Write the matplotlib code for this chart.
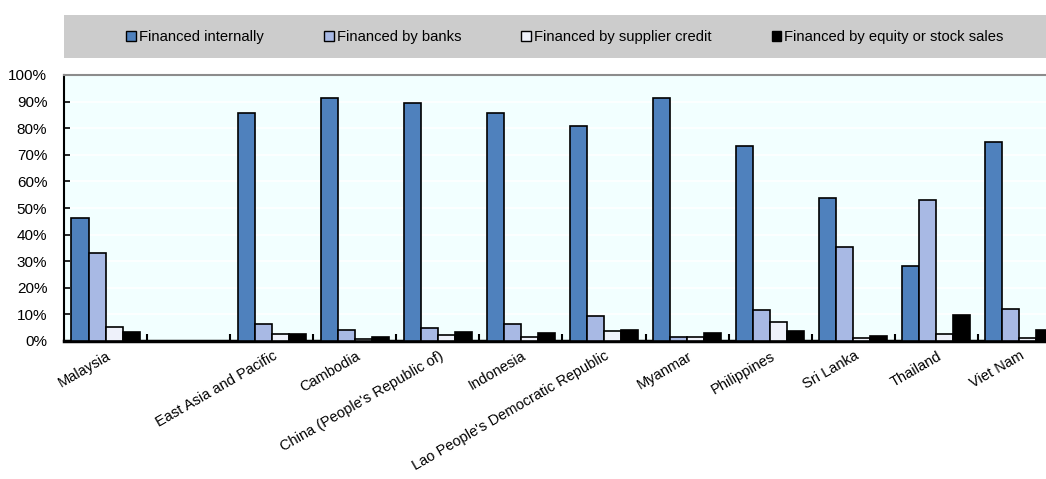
import matplotlib
matplotlib.use("Agg")
import matplotlib.pyplot as plt
from matplotlib.patches import Rectangle, Patch
from matplotlib.ticker import FixedLocator, FuncFormatter
import numpy as np

plt.rcParams["font.family"] = ["Liberation Sans", "DejaVu Sans"]

categories = ["Malaysia", "", "East Asia and Pacific", "Cambodia",
              "China (People's Republic of)", "Indonesia",
              "Lao People's Democratic Republic", "Myanmar", "Philippines",
              "Sri Lanka", "Thailand", "Viet Nam"]

internal = [46.1, 0, 85.6, 91.2, 89.6, 85.8, 80.9, 91.5, 73.3, 53.6, 28.3, 74.8]
banks = [33.0, 0, 6.4, 4.1, 4.8, 6.3, 9.5, 1.6, 11.8, 35.5, 53.0, 12.2]
supplier = [5.4, 0, 2.6, 0.7, 2.1, 1.4, 3.8, 1.4, 7.1, 1.0, 2.8, 1.1]
equity = [3.5, 0, 2.6, 1.4, 3.5, 3.1, 4.3, 3.0, 3.8, 2.0, 9.9, 4.1]

series_names = ["Financed internally", "Financed by banks",
                "Financed by supplier credit", "Financed by equity or stock sales"]
series_values = [internal, banks, supplier, equity]
series_colors = ["#4F81BD", "#A8B9E4", "#EEF1FA", "#000000"]

W, H = 1046, 479
fig = plt.figure(figsize=(W / 100, H / 100), dpi=100)

# axes box in pixel units: left 64, right 1061 (runs past the page edge), top 75, bottom 341
left, right, top, bottom = 64, 1061, 75, 341
ax = fig.add_axes([left / W, 1 - bottom / H, (right - left) / W, (bottom - top) / H])
ax.set_facecolor("#F2FFFF")

x = np.arange(len(categories))
bw = 0.205
offsets = (np.arange(4) - 1.5) * bw
for vals, off, col in zip(series_values, offsets, series_colors):
    v = np.array(vals, dtype=float)
    mask = v > 0
    ax.bar(x[mask] + off, v[mask], width=bw, color=col, edgecolor="black",
           linewidth=1.2, zorder=3)

ax.set_xlim(-0.5, len(categories) - 0.5)
ax.set_ylim(0, 100)
ax.set_yticks(np.arange(0, 101, 10))
ax.yaxis.set_major_formatter(FuncFormatter(lambda v, p: f"{int(v)}%"))
ax.grid(axis="y", color="white", linewidth=1.2, zorder=1)
ax.set_axisbelow(True)

ax.set_xticks(x)
ax.set_xticklabels([])
ax.xaxis.set_minor_locator(FixedLocator(np.arange(0.5, len(categories) - 0.5, 1)))
ax.tick_params(axis="x", which="major", length=0)
ax.tick_params(axis="x", which="minor", direction="in", length=5, width=1.5, color="black")
ax.tick_params(axis="y", direction="in", length=4, width=1.2, labelsize=11, pad=12)

for xi, lab in zip(x, categories):
    if lab:
        ax.annotate(lab, xy=(xi, 0), xycoords=("data", "axes fraction"),
                    xytext=(3, -10), textcoords="offset points",
                    rotation=30, rotation_mode="anchor", ha="right", va="center",
                    fontsize=10.5)

ax.spines["left"].set_linewidth(1.5)
ax.spines["left"].set_color("black")
ax.spines["bottom"].set_linewidth(2.5)
ax.spines["bottom"].set_color("black")
ax.spines["top"].set_color("#8C8C8C")
ax.spines["top"].set_linewidth(1.5)
ax.spines["right"].set_visible(False)

# grey band behind the legend
fig.patches.append(Rectangle((64 / W, 1 - 58 / H), (W - 64) / W, 43 / H,
                             transform=fig.transFigure, facecolor="#CCCCCC",
                             edgecolor="none", zorder=0))

handles = [Patch(facecolor=c, edgecolor="black", linewidth=1.0) for c in series_colors]
fig.legend(handles, series_names, loc="center", bbox_to_anchor=(565 / W, 1 - 37 / H),
           ncol=4, frameon=False, fontsize=10.6, handlelength=0.65, handleheight=0.65,
           handletextpad=0.2, columnspacing=4.1)

fig.savefig("out.png", dpi=100)
